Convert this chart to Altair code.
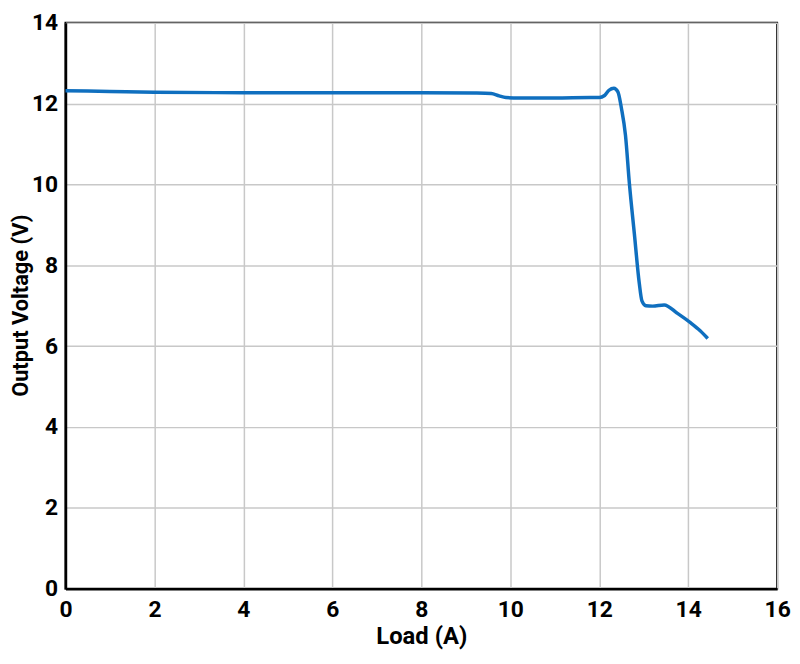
import altair as alt
import pandas as pd

load_a = [0.0, 1.0, 2.0, 4.0, 6.0, 8.0, 9.2, 9.57, 9.75, 9.9, 10.2, 11.0, 11.8, 12.0, 12.12,
          12.22, 12.33, 12.42, 12.5, 12.59, 12.68, 12.79, 12.9, 12.96, 13.05, 13.2, 13.46,
          13.76, 14.05, 14.27, 14.44]
voltage_v = [12.32, 12.30, 12.28, 12.27, 12.27, 12.27, 12.26, 12.25, 12.19, 12.15, 12.14, 12.14, 12.15, 12.15, 12.2,
             12.33, 12.38, 12.29, 11.88, 11.22, 10.0, 8.78, 7.56, 7.12, 7.0, 6.99, 7.02,
             6.81, 6.58, 6.38, 6.19]

x_ticks = [0, 2, 4, 6, 8, 10, 12, 14, 16]
y_ticks = [0, 2, 4, 6, 8, 10, 12, 14]

df = pd.DataFrame({"load": load_a, "voltage": voltage_v})

FONT = "Roboto"

chart = alt.Chart(df).mark_line(
    color="#0f6fbf", strokeWidth=3.5, interpolate="monotone"
).encode(
    x=alt.X("load:Q", title="Load (A)",
            scale=alt.Scale(domain=[0, 16], nice=False, zero=False),
            axis=alt.Axis(values=x_ticks, format="d", labelPadding=10, labelFlush=False,
                          titleY=36, titleBaseline="top")),
    y=alt.Y("voltage:Q", title="Output Voltage (V)",
            scale=alt.Scale(domain=[0, 14], nice=False),
            axis=alt.Axis(values=y_ticks, format="d", labelPadding=8, labelFlush=False,
                          titleX=-33, titleY=285, titleBaseline="bottom", titleFontSize=22)),
).properties(
    width=718, height=571,
    autosize=alt.AutoSizeParams(type="none"),
    padding={"left": 58, "top": 12, "right": 15, "bottom": 60},
).configure_view(
    stroke="black", strokeWidth=2
).configure_axis(
    domain=True, domainColor="black", domainWidth=2.5,
    grid=True, gridColor="#c8c8c8", gridWidth=1.5,
    ticks=False,
    labelFont=FONT, labelFontSize=23, labelFontWeight="bold", labelColor="black",
    titleFont=FONT, titleFontSize=24, titleFontWeight="bold", titleColor="black",
)

chart.save("out.html", embed_options={"renderer": "svg", "actions": False})
